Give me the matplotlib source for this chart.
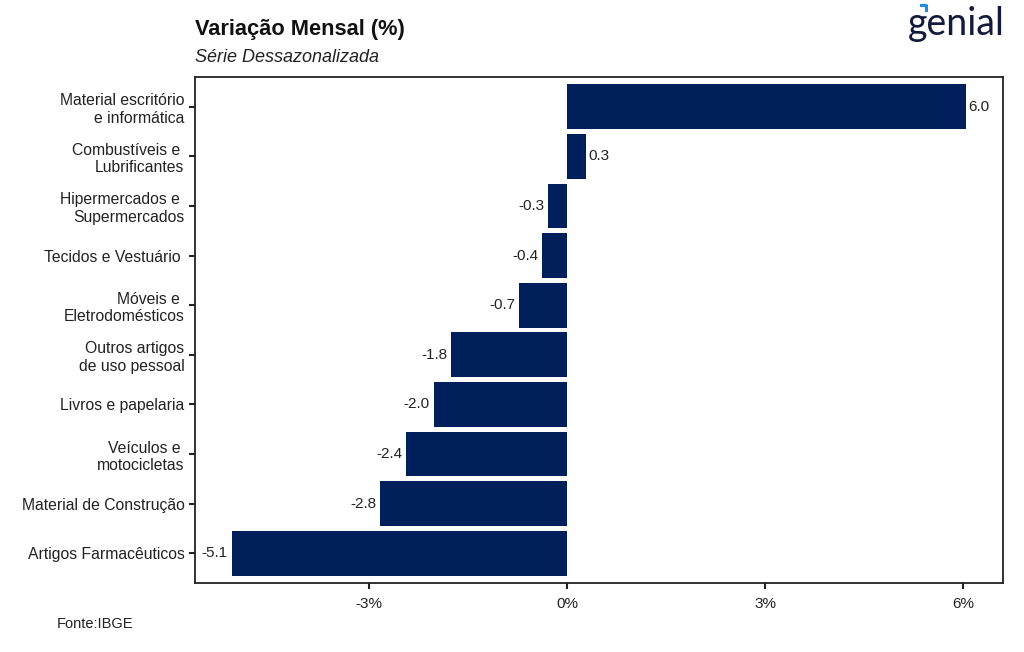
import matplotlib
matplotlib.use("Agg")
from matplotlib import pyplot as plt
from matplotlib.lines import Line2D

categorias = ["Material escritório\ne informática",
              "Combustíveis e \nLubrificantes",
              "Hipermercados e \nSupermercados",
              "Tecidos e Vestuário ",
              "Móveis e \nEletrodomésticos",
              "Outros artigos\nde uso pessoal",
              "Livros e papelaria",
              "Veículos e \nmotocicletas",
              "Material de Construção",
              "Artigos Farmacêuticos"]
valores = [6.04, 0.29, -0.29, -0.38, -0.73, -1.76, -2.02, -2.44, -2.83, -5.08]
x_ticks = [-3, 0, 3, 6]

plt.rcParams['font.family'] = ['Liberation Sans', 'DejaVu Sans']

fig = plt.figure(figsize=(10.24, 6.52), dpi=100)
ax = fig.add_axes([0.1904, 0.1058, 0.7891, 0.7761])

cor = '#011f5b'
pos = list(range(len(categorias)))[::-1]
ax.barh(pos, valores, height=0.9, color=cor)

for p, v in zip(pos, valores):
    if v >= 0:
        ax.text(v + 0.03, p, f"{v:.1f}", va='center', ha='left', fontsize=11, color='#222222')
    else:
        ax.text(v - 0.06, p, f"{v:.1f}", va='center', ha='right', fontsize=11, color='#222222')

ax.set_yticks(pos)
ax.set_yticklabels(categorias, fontsize=11.3, color='#222222', ha='right')
ax.set_xticks(x_ticks)
ax.set_xticklabels([f"{t}%" for t in x_ticks], fontsize=11, color='#222222')
ax.set_xlim(-5.64, 6.6)
ax.set_ylim(-0.6, 9.6)

for s in ax.spines.values():
    s.set_linewidth(1.3)
    s.set_color('#222222')
ax.tick_params(axis='both', length=4, width=1.5, color='#222222')
ax.tick_params(axis='x', pad=6)

fig.text(0.1904, 0.955, "Variação Mensal (%)", fontsize=15.7, fontweight='bold', va='center', ha='left', color='#111111')
fig.text(0.1904, 0.912, "Série Dessazonalizada", fontsize=13, style='italic', va='center', ha='left', color='#222222')
fig.text(0.055, 0.043, "Fonte:IBGE", fontsize=10.5, va='center', ha='left', color='#222222')

# logo
fig.text(0.981, 0.963, "genial", fontsize=27, family='Lato', va='center', ha='right', color='#141a3c')
fig.add_artist(Line2D([0.8995, 0.9045, 0.9045], [0.9925, 0.9925, 0.984],
                      transform=fig.transFigure, color='#1e8fe0', lw=2.2))

plt.savefig("out.png", dpi=100)
